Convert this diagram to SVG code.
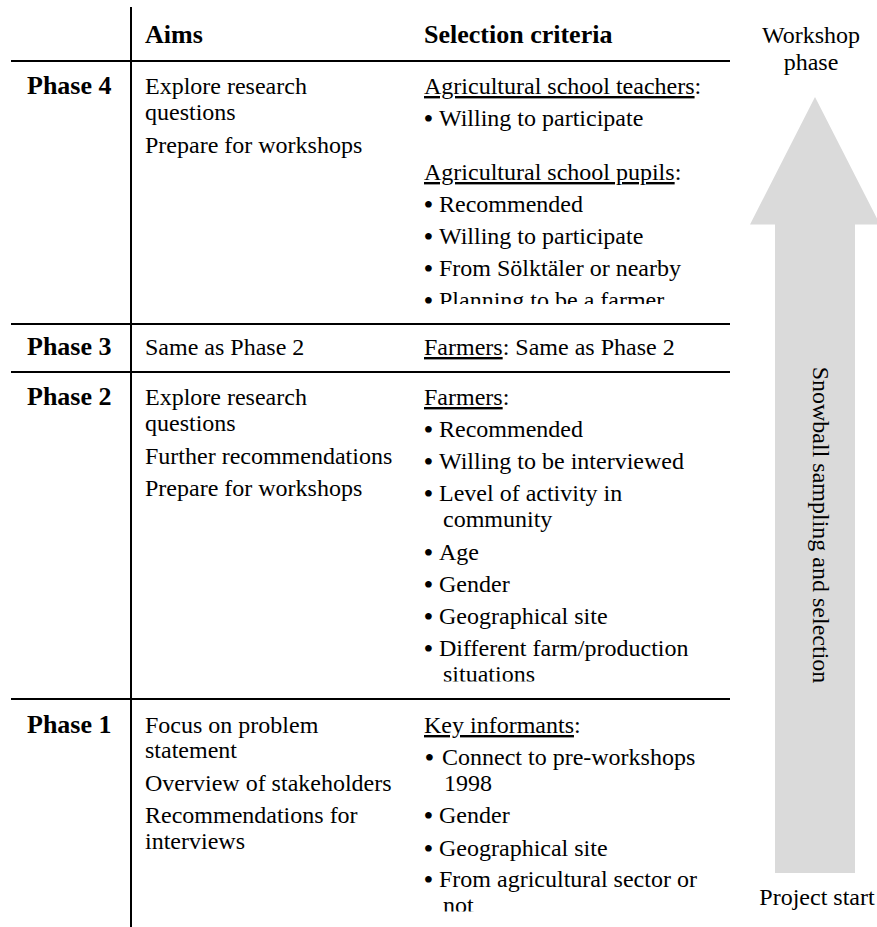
<svg xmlns="http://www.w3.org/2000/svg" width="877" height="927" viewBox="0 0 877 927">
  <style>
    text { font-family: "Liberation Serif", "Times New Roman", serif; font-size: 24px; fill: #000; }
    .b { font-weight: bold; font-size: 26px; }
    .u { text-decoration: underline; }
    .bul { font-size: 28px; }
    .grid line { stroke: #000; stroke-width: 2; }
    .mid { text-anchor: middle; }
  </style>
  <defs>
    <clipPath id="clip4"><rect x="400" y="60" width="340" height="244"/></clipPath>
    <clipPath id="clip2"><rect x="400" y="380" width="340" height="301.5"/></clipPath>
    <clipPath id="clip1"><rect x="400" y="705" width="340" height="206.5"/></clipPath>
  </defs>

  <g id="arrow">
    <polygon points="815,97 880,224.5 855,224.5 855,873 775,873 775,224.5 750,224.5" fill="#dadada"/>
    <text class="mid" transform="translate(813,525) rotate(90)">Snowball sampling and selection</text>
  </g>
  <g id="label-top">
    <text class="mid" x="811" y="43">Workshop</text>
    <text class="mid" x="811" y="70">phase</text>
  </g>
  <g id="label-bottom">
    <text class="mid" x="817" y="905">Project start</text>
  </g>

  <g id="connectors" class="grid">
    <line x1="131" y1="7" x2="131" y2="927"/>
    <line x1="11" y1="61" x2="730" y2="61"/>
    <line x1="11" y1="324" x2="730" y2="324"/>
    <line x1="11" y1="372" x2="730" y2="372"/>
    <line x1="11" y1="699" x2="730" y2="699"/>
  </g>

  <g id="header">
    <text class="b" x="145" y="43">Aims</text>
    <text class="b" x="424" y="43">Selection criteria</text>
  </g>

  <g id="phase4">
    <text class="b" x="27" y="94">Phase 4</text>
    <text x="145" y="94">Explore research</text>
    <text x="145" y="120">questions</text>
    <text x="145" y="153">Prepare for workshops</text>
    <g clip-path="url(#clip4)">
      <text x="424" y="94"><tspan class="u">Agricultural school teachers</tspan>:</text>
      <text y="126"><tspan class="bul" x="423.5" dy="2">•</tspan><tspan x="439" dy="-2">Willing to participate</tspan></text>
      <text x="424" y="180"><tspan class="u">Agricultural school pupils</tspan>:</text>
      <text y="212"><tspan class="bul" x="423.5" dy="2">•</tspan><tspan x="439" dy="-2">Recommended</tspan></text>
      <text y="244"><tspan class="bul" x="423.5" dy="2">•</tspan><tspan x="439" dy="-2">Willing to participate</tspan></text>
      <text y="276"><tspan class="bul" x="423.5" dy="2">•</tspan><tspan x="439" dy="-2">From Sölktäler or nearby</tspan></text>
      <text y="308"><tspan class="bul" x="423.5" dy="2">•</tspan><tspan x="439" dy="-2">Planning to be a farmer</tspan></text>
    </g>
  </g>

  <g id="phase3">
    <text class="b" x="27" y="355">Phase 3</text>
    <text x="145" y="355">Same as Phase 2</text>
    <text x="424" y="355"><tspan class="u">Farmers</tspan>: Same as Phase 2</text>
  </g>

  <g id="phase2">
    <text class="b" x="27" y="405">Phase 2</text>
    <text x="145" y="405">Explore research</text>
    <text x="145" y="431">questions</text>
    <text x="145" y="464">Further recommendations</text>
    <text x="145" y="496">Prepare for workshops</text>
    <g clip-path="url(#clip2)">
      <text x="424" y="405"><tspan class="u">Farmers</tspan>:</text>
      <text y="437"><tspan class="bul" x="423.5" dy="2">•</tspan><tspan x="439" dy="-2">Recommended</tspan></text>
      <text y="469"><tspan class="bul" x="423.5" dy="2">•</tspan><tspan x="439" dy="-2">Willing to be interviewed</tspan></text>
      <text y="501"><tspan class="bul" x="423.5" dy="2">•</tspan><tspan x="439" dy="-2">Level of activity in</tspan></text>
      <text x="443" y="527">community</text>
      <text y="560"><tspan class="bul" x="423.5" dy="2">•</tspan><tspan x="439" dy="-2">Age</tspan></text>
      <text y="592"><tspan class="bul" x="423.5" dy="2">•</tspan><tspan x="439" dy="-2">Gender</tspan></text>
      <text y="624"><tspan class="bul" x="423.5" dy="2">•</tspan><tspan x="439" dy="-2">Geographical site</tspan></text>
      <text y="656"><tspan class="bul" x="423.5" dy="2">•</tspan><tspan x="439" dy="-2">Different farm/production</tspan></text>
      <text x="443" y="682">situations</text>
    </g>
  </g>

  <g id="phase1">
    <text class="b" x="27" y="733">Phase 1</text>
    <text x="145" y="733">Focus on problem</text>
    <text x="145" y="758">statement</text>
    <text x="145" y="791">Overview of stakeholders</text>
    <text x="145" y="823">Recommendations for</text>
    <text x="145" y="849">interviews</text>
    <g clip-path="url(#clip1)">
      <text x="424" y="733"><tspan class="u">Key informants</tspan>:</text>
      <text y="765"><tspan class="bul" x="424.5" dy="2">•</tspan><tspan x="442" dy="-2">Connect to pre-workshops</tspan></text>
      <text x="444" y="791">1998</text>
      <text y="823"><tspan class="bul" x="423.5" dy="2">•</tspan><tspan x="439" dy="-2">Gender</tspan></text>
      <text y="856"><tspan class="bul" x="423.5" dy="2">•</tspan><tspan x="439" dy="-2">Geographical site</tspan></text>
      <text y="887"><tspan class="bul" x="423.5" dy="2">•</tspan><tspan x="439" dy="-2">From agricultural sector or</tspan></text>
      <text x="443" y="913">not</text>
    </g>
  </g>
</svg>
